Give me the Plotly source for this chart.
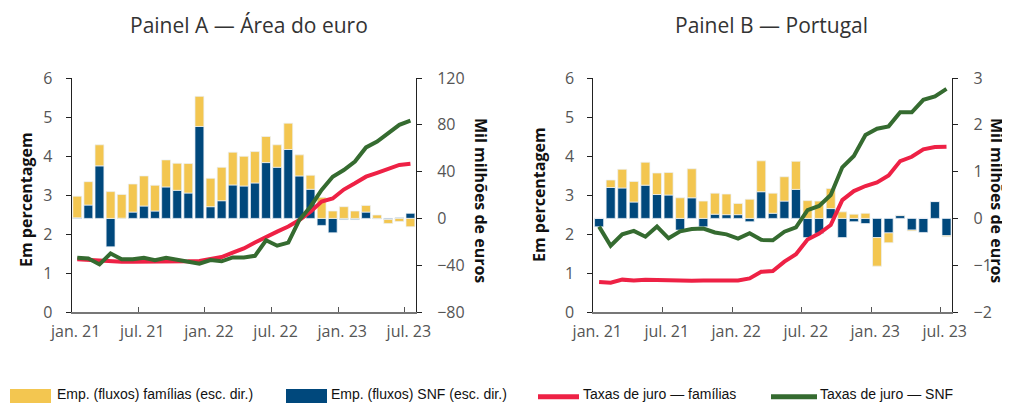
import plotly.graph_objects as go

# ---------------- data ----------------
months = list(range(31))  # jan.21 .. jul.23
tick_labels = ["jan. 21", "jul. 21", "jan. 22", "jul. 22", "jan. 23", "jul. 23"]

# Panel A - Área do euro (bars in mil milhões de euros, lines in %)
a_fam_flow = [18.5, 20.0, 18.0, 22.9, 20.3, 24.0, 25.7, 22.0, 23.1, 23.1, 25.2, 25.7,
              24.3, 28.6, 28.0, 25.4, 26.8, 22.3, 19.2, 22.5, 18.0, 12.0, 18.0, 6.3,
              10.0, 6.3, 5.7, 2.9, -3.4, -2.6, -7.1]
a_snf_flow = [0.5, 11.4, 44.9, -24.3, 0.2, 5.4, 10.6, 6.3, 26.9, 24.0, 21.7, 78.6,
              10.0, 15.1, 28.6, 27.7, 30.3, 47.7, 43.7, 58.9, 36.3, 24.9, -6.0, -12.3,
              -1.0, -1.0, 5.4, -0.5, -0.9, 0.6, 4.3]
a_rate_fam = [1.35, 1.33, 1.31, 1.30, 1.29, 1.29, 1.29, 1.28, 1.28, 1.29, 1.30, 1.31,
              1.35, 1.41, 1.52, 1.63, 1.78, 1.93, 2.06, 2.19, 2.36, 2.57, 2.83, 2.91,
              3.14, 3.30, 3.47, 3.57, 3.67, 3.77, 3.80]
a_rate_snf = [1.39, 1.37, 1.22, 1.50, 1.35, 1.35, 1.39, 1.33, 1.39, 1.33, 1.29, 1.24,
              1.33, 1.30, 1.40, 1.40, 1.44, 1.84, 1.70, 1.78, 2.36, 2.70, 3.13, 3.47,
              3.64, 3.86, 4.22, 4.37, 4.58, 4.80, 4.91]

# Panel B - Portugal
b_fam_flow = [0.0, 0.16, 0.40, 0.44, 0.49, 0.46, 0.48, 0.44, 0.62, 0.37, 0.45, 0.44,
              0.24, 0.41, 0.66, 0.43, 0.52, 0.60, 0.38, 0.37, 0.43, 0.14, 0.09, 0.11,
              -0.61, -0.21, 0.01, -0.02, 0.0, 0.0, -0.02]
b_snf_flow = [-0.18, 0.66, 0.65, 0.35, 0.71, 0.51, 0.50, -0.25, 0.44, -0.18, 0.09, 0.08,
              0.08, -0.07, 0.57, 0.11, 0.37, 0.62, -0.41, -0.32, 0.21, -0.41, -0.07, -0.11,
              -0.41, -0.31, 0.06, -0.25, -0.30, 0.36, -0.37]
b_rate_fam = [0.77, 0.75, 0.83, 0.81, 0.83, 0.82, 0.81, 0.81, 0.80, 0.81, 0.81, 0.81,
              0.81, 0.86, 1.03, 1.05, 1.29, 1.48, 1.86, 2.01, 2.23, 2.87, 3.10, 3.23,
              3.32, 3.50, 3.87, 3.98, 4.17, 4.23, 4.24]
b_rate_snf = [2.19, 1.70, 1.99, 2.08, 1.93, 2.19, 1.89, 2.07, 2.13, 2.14, 2.04, 1.99,
              1.88, 2.02, 1.85, 1.84, 2.06, 2.17, 2.61, 2.72, 3.00, 3.71, 4.00, 4.54,
              4.70, 4.76, 5.12, 5.12, 5.44, 5.53, 5.72]

# ---------------- style ----------------
YELLOW = "#F3C650"
BLUE = "#00487C"
RED = "#EE2145"
GREEN = "#356B30"
TICK_FONT = dict(family="Open Sans, Noto Sans, sans-serif", size=16, color="#555555")
TITLE_FONT = dict(family="Open Sans, Noto Sans, sans-serif", size=21, color="#333333")
AXTITLE_FONT = dict(family="Open Sans, Noto Sans, sans-serif", size=16, color="#111111", weight="bold")
LEG_FONT = dict(family="Liberation Sans Narrow, Liberation Sans, sans-serif", size=14, color="#111111")

# page body has an 8px margin: figure is sized so it ends at the window edge
OFF = 8
W, H = 1010 - OFF, 403 - OFF
def px(x):
    return (x - OFF) / W
def py(y):
    return (H - (y - OFF)) / H

fig = go.Figure()

bar_line = dict(color="rgba(235,241,247,0.9)", width=0.8)

# Panel A
fig.add_trace(go.Bar(x=months, y=a_snf_flow, name="Emp. (fluxos) SNF (esc. dir.)",
                     marker=dict(color=BLUE, line=bar_line), width=0.8,
                     xaxis="x", yaxis="y", showlegend=False))
fig.add_trace(go.Bar(x=months, y=a_fam_flow, name="Emp. (fluxos) famílias (esc. dir.)",
                     marker=dict(color=YELLOW, line=bar_line), width=0.8,
                     xaxis="x", yaxis="y", showlegend=False))
fig.add_trace(go.Scatter(x=months, y=a_rate_fam, mode="lines", name="Taxas de juro — famílias",
                         line=dict(color=RED, width=4), xaxis="x", yaxis="y2", showlegend=False))
fig.add_trace(go.Scatter(x=months, y=a_rate_snf, mode="lines", name="Taxas de juro — SNF",
                         line=dict(color=GREEN, width=4), xaxis="x", yaxis="y2", showlegend=False))

# Panel B
fig.add_trace(go.Bar(x=months, y=b_snf_flow, name="Emp. (fluxos) SNF (esc. dir.)",
                     marker=dict(color=BLUE, line=bar_line), width=0.78,
                     xaxis="x2", yaxis="y3", showlegend=False))
fig.add_trace(go.Bar(x=months, y=b_fam_flow, name="Emp. (fluxos) famílias (esc. dir.)",
                     marker=dict(color=YELLOW, line=bar_line), width=0.78,
                     xaxis="x2", yaxis="y3", showlegend=False))
fig.add_trace(go.Scatter(x=months, y=b_rate_fam, mode="lines", name="Taxas de juro — famílias",
                         line=dict(color=RED, width=4), xaxis="x2", yaxis="y4", showlegend=False))
fig.add_trace(go.Scatter(x=months, y=b_rate_snf, mode="lines", name="Taxas de juro — SNF",
                         line=dict(color=GREEN, width=4), xaxis="x2", yaxis="y4", showlegend=False))

tickvals = [-0.5, 5.5, 11.5, 17.5, 23.5, 29.5]
ydom = [py(312), py(78)]

def xaxis_cfg(dom, anchor):
    return dict(domain=dom, anchor=anchor, range=[-0.5, 30.5], tickmode="array",
                tickvals=tickvals, ticktext=tick_labels, ticks="inside", ticklen=5,
                tickcolor="#555", showline=True, linecolor="#777", linewidth=1.5,
                showgrid=False, zeroline=False, tickfont=TICK_FONT, ticklabelshift=4,
                ticklabelstandoff=4, fixedrange=True, automargin=False)

def bar_axis(anchor, rng, dtick):
    return dict(domain=ydom, anchor=anchor, side="right", range=rng, dtick=dtick,
                ticks="outside", ticklen=5, tickcolor="#222", showline=True,
                linecolor="#222", linewidth=1, showgrid=False, zeroline=False,
                tickfont=TICK_FONT, ticklabelstandoff=12, automargin=False)

def rate_axis(anchor, over):
    return dict(domain=ydom, anchor=anchor, overlaying=over, side="left", range=[0, 6],
                dtick=1, ticks="outside", ticklen=5, tickcolor="#222", showline=True,
                linecolor="#222", linewidth=1, showgrid=False, zeroline=False,
                tickfont=TICK_FONT, ticklabelstandoff=10, automargin=False)

fig.update_layout(
    width=W, height=H, margin=dict(l=0, r=0, t=0, b=0, pad=0, autoexpand=False),
    paper_bgcolor="white", plot_bgcolor="rgba(0,0,0,0)",
    barmode="relative", bargap=0.2,
    xaxis=xaxis_cfg([px(71.7), px(416)], "y"),
    xaxis2=xaxis_cfg([px(593.3), px(952.3)], "y3"),
    yaxis=bar_axis("x", [-80, 120], 40),
    yaxis2=rate_axis("x", "y"),
    yaxis3=bar_axis("x2", [-2, 3], 1),
    yaxis4=rate_axis("x2", "y3"),
)

ann = [
    dict(text="Painel A — Área do euro", x=px(249), y=py(25), font=TITLE_FONT),
    dict(text="Painel B — Portugal", x=px(771), y=py(25), font=TITLE_FONT),
    dict(text="Em percentagem", x=px(26), y=py(200), textangle=-90, font=AXTITLE_FONT),
    dict(text="Em percentagem", x=px(539), y=py(195), textangle=-90, font=AXTITLE_FONT),
    dict(text="Mil milhões de euros", x=px(481), y=py(200), textangle=90, font=AXTITLE_FONT),
    dict(text="Mil milhões de euros", x=px(997), y=py(200), textangle=90, font=AXTITLE_FONT),
]
legend_items = [
    ("Emp. (fluxos) famílias (esc. dir.)", 55),
    ("Emp. (fluxos) SNF (esc. dir.)", 329),
    ("Taxas de juro — famílias", 581),
    ("Taxas de juro — SNF", 818),
]
for txt, x0 in legend_items:
    ann.append(dict(text=txt, x=px(x0), y=py(393.5), xanchor="left", yanchor="middle", font=LEG_FONT))
for a in ann:
    a.setdefault("xanchor", "center")
    a.setdefault("yanchor", "middle")
    a.update(xref="paper", yref="paper", showarrow=False)
fig.update_layout(annotations=ann)

shapes = [
    dict(type="rect", x0=px(10), x1=px(51), y0=py(403), y1=py(389), fillcolor=YELLOW, line=dict(width=0)),
    dict(type="rect", x0=px(286), x1=px(327), y0=py(403), y1=py(389), fillcolor=BLUE, line=dict(width=0)),
    dict(type="line", x0=px(538), x1=px(579), y0=py(396.7), y1=py(396.7), line=dict(color=RED, width=5)),
    dict(type="line", x0=px(771), x1=px(817), y0=py(396.7), y1=py(396.7), line=dict(color=GREEN, width=5)),
]
for s in shapes:
    s.update(xref="paper", yref="paper")
fig.update_layout(shapes=shapes)

fig.write_html("out.html")
